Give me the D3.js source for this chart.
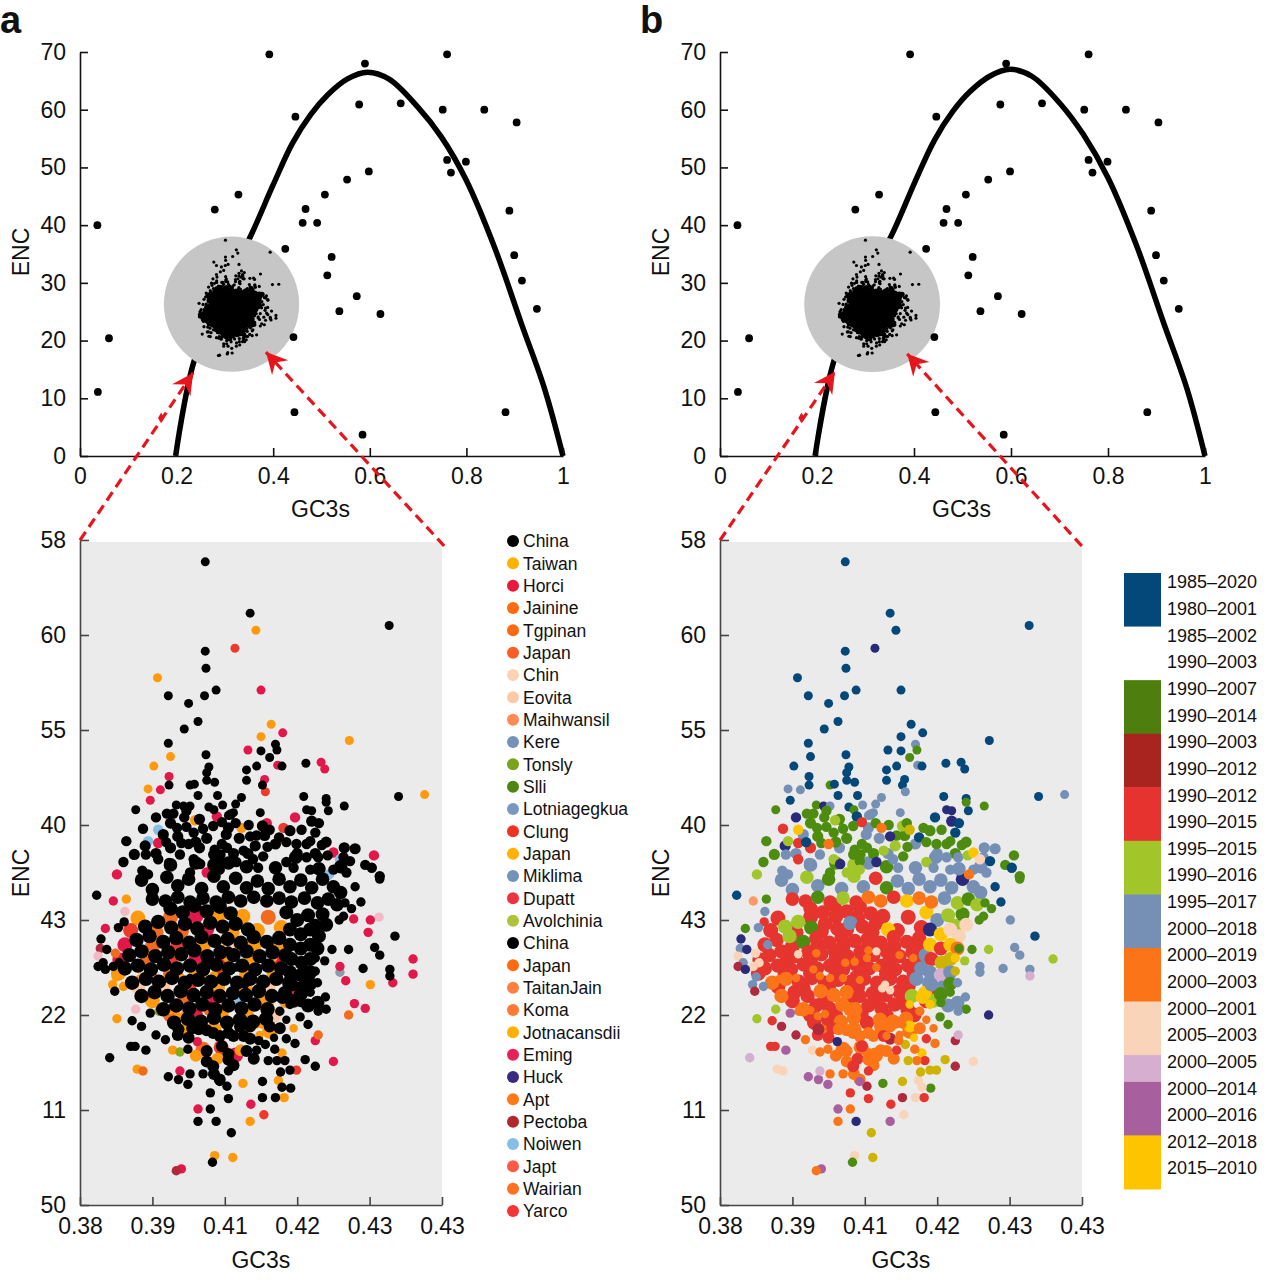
<!DOCTYPE html>
<html><head><meta charset="utf-8">
<script src="https://cdnjs.cloudflare.com/ajax/libs/d3/7.8.5/d3.min.js"></script>
<style>html,body{margin:0;padding:0;background:#fff}svg{display:block}text{font-family:"Liberation Sans",Arial,sans-serif;fill:#111}</style>
</head><body><svg id="c" width="1280" height="1280"></svg>
<script>
// ---------- overview panels ----------
const topGc=[.392,.76,.59,.578,.664,.446,.751,.837,.904,.76,.799,.768,.598,.553,.507,.328,.279,.467,.889,.461,.491,.036,.425,.521,.899,.512,.915,.573,.537,.622,.946,.442,.06,.037,.444,.881,.585];
const topEnc=[69.6,69.6,68,60.9,61.1,58.8,60,60,57.8,51.3,51,49.1,49.3,47.9,45.3,45.3,42.7,42.8,42.5,40.4,40.4,40,35.9,34.5,34.8,31.3,30.4,27.7,25.1,24.6,25.5,20.6,20.4,11.1,7.6,7.6,3.7];
const curveGcA=[.198,.236,.30,.356,.40,.44,.478,.513,.553,.595,.64,.70,.748,.799,.859,.914,.962,1];
const curveEncA=[0,16.4,29,38.6,47,54.2,59.2,62.6,65.3,66.5,65.3,60.4,55.3,47.9,36,22.9,11.6,0];
const curveGcB=[.196,.236,.30,.358,.402,.442,.48,.515,.556,.598,.643,.702,.75,.80,.86,.915,.963,1];
const curveEncB=[0,16.8,29.4,39,47.5,54.7,59.7,63.1,65.8,67,65.8,61,55.6,48.2,36.2,23,11.6,0];
const topXTicks=[0,.2,.4,.6,.8,1], topXLabels=["0","0.2","0.4","0.6","0.8","1"];
const topYTicks=[0,10,20,30,40,50,60,70];
// ---------- zoom panels: axis tick labels as printed ----------
const zoomXTicks=[.38,.39,.40,.41,.42,.43], zoomXLabels=["0.38","0.39","0.41","0.42","0.43","0.43"];
const zoomYTicks=[0,10,20,30,40,50,60,70], zoomYLabels=["50","11","22","43","40","55","60","58"];
// ---------- legends ----------
const countryNames=["China","Taiwan","Horci","Jainine","Tgpinan","Japan","Chin","Eovita","Maihwansil","Kere","Tonsly","Slli","Lotniagegkua","Clung","Japan","Miklima","Dupatt","Avolchinia","China","Japan","TaitanJain","Koma","Jotnacansdii","Eming","Huck","Apt","Pectoba","Noiwen","Japt","Wairian","Yarco"];
const countryLegendColors=["#000","#ffb300","#e8183f","#ff6a10","#ff6a10","#ff5b26","#fcd2b5","#fccaa6","#ff8a55","#7592b8","#7aa31a","#4f8612","#7a98bd","#ee3224","#ffb300","#7592b8","#ee3240","#b0c23a","#000","#ff6a10","#ff8040","#ff7a35","#ffb000","#e8205a","#3a2a80","#ff7a15","#b0282e","#88bde6","#ff5a48","#ff7020","#f53535"];
const yearLabels=["1985–2020","1980–2001","1985–2002","1990–2003","1990–2007","1990–2014","1990–2003","1990–2012","1990–2012","1990–2015","1995–2015","1990–2016","1995–2017","2000–2018","2000–2019","2000–2003","2000–2001","2005–2003","2000–2005","2000–2014","2000–2016","2012–2018","2015–2010"];
const yearBlockColors=["#04487a","#ffffff","#4e7f0e","#a9241f","#e7332f","#a2c52a","#7690b5","#fb7518","#fad4b8","#d6aed0","#a85f9e","#ffc400"];
const yearBlockSpans=[2,2,2,2,2,2,2,2,2,1,2,2];
// colour keys
const countryKeys=["K","O","R","E","L","S","G","P","D","H","W","T"];
const countryKeyColors=["#000000","#ff9a0d","#e2174a","#ee3a2a","#88bde6","#7b93b8","#8aa51a","#fcc8a4","#f26a1b","#f3b9c4","#b0283a","#8c9bab"];
const eraKeys=["N","I","F","B","T","A","C","H","M","Y","W","V","Z","Q"];
const eraKeyColors=["#04487a","#2a2a7a","#4e8c10","#a2c52a","#7690b5","#fb7518","#e5352e","#fad4b8","#a85f9e","#ffc400","#b02a3e","#d6aed0","#cdb400","#ff9a66"];
// ---------- codon points [GC3s, ENC, country key, era key]; the era key "" = not seen in b ----------
const underlay=[[.3880,30.2,"O","C"],[.3925,30.3,"D","C"],[.3960,30.4,"R","C"],[.3990,30.2,"O","C"],[.4025,30.4,"O","C"],[.4060,30.3,"D","C"],[.3870,28.9,"E","C"],[.3905,28.7,"D","C"],[.3940,28.8,"D","C"],[.3975,29.0,"R","C"],[.4010,28.7,"O","C"],[.4045,28.9,"O","C"],[.4078,29.2,"O","C"],[.3862,27.4,"R","C"],[.3900,27.2,"D","C"],[.3935,27.3,"E","C"],[.3970,27.2,"O","C"],[.4005,27.3,"P","C"],[.4040,27.2,"O","C"],[.4075,27.3,"O","C"],[.3855,25.8,"R","C"],[.3893,25.9,"D","C"],[.3925,25.8,"E","C"],[.3960,25.9,"R","C"],[.3995,25.7,"R","C"],[.4035,25.9,"O","C"],[.4072,25.8,"R","C"],[.3853,24.4,"O","C"],[.3890,24.3,"P","C"],[.3925,24.4,"D","C"],[.3960,24.2,"O","C"],[.3995,24.4,"E","C"],[.4030,24.3,"O","C"],[.4068,24.4,"O","C"],[.3880,23.0,"P","C"],[.3915,22.8,"P","C"],[.3950,23.0,"E","C"],[.3990,22.9,"O","C"],[.4025,22.9,"R","C"],[.4060,23.0,"P","C"],[.4095,22.8,"E","C"],[.3900,21.5,"O","C"],[.3945,21.6,"D","C"],[.3980,21.5,"R","C"],[.4015,21.6,"L","C"],[.4052,21.4,"O","C"],[.4085,21.5,"O","C"],[.3925,20.0,"D","C"],[.3960,19.9,"R","C"],[.3995,20.1,"O","C"],[.4030,19.9,"O","C"],[.4068,20.0,"P","C"],[.3945,18.4,"O","A"],[.3985,18.5,"O","A"],[.4025,18.4,"O","A"],[.4062,18.3,"O","A"],[.3970,16.4,"D","A"],[.3995,16.6,"E","A"],[.4015,15.8,"R","A"]];
const coreA=[[.3925,31.2,"K","C"],[.3942,30.8,"K","C"],[.3958,31.5,"K","C"],[.3975,30.9,"K","C"],[.3993,31.4,"K","C"],[.4008,30.7,"K","C"],[.3890,29.3,"K","B"],[.3908,29.8,"K","B"],[.3926,29.2,"K","F"],[.3945,29.6,"K","C"],[.3962,29.1,"K","C"],[.3980,29.7,"K","T"],[.3997,29.3,"K","C"],[.4015,29.6,"K","C"],[.4032,29.0,"K","Y"],[.3878,27.9,"K","C"],[.3896,28.3,"K","B"],[.3915,27.7,"K","F"],[.3933,28.1,"K","C"],[.3951,27.6,"K","C"],[.3968,28.2,"K","C"],[.3986,27.8,"K","C"],[.4004,28.0,"K","C"],[.4022,27.6,"K","C"],[.4040,28.2,"K","C"],[.4058,27.7,"K","C"],[.4075,28.1,"K","C"],[.3868,26.3,"K","C"],[.3885,26.7,"K","C"],[.3904,26.2,"K","C"],[.3922,26.6,"K","C"],[.3940,26.4,"K","C"],[.3958,26.8,"K","C"],[.3976,26.2,"K","C"],[.3994,26.6,"K","C"],[.4012,26.3,"K","C"],[.4030,26.7,"K","C"],[.4048,26.2,"K","C"],[.4066,26.6,"K","C"],[.4084,26.3,"K","T"]];
const coreB=[[.3862,24.9,"K","C"],[.3880,25.2,"K","C"],[.3898,24.8,"K","C"],[.3916,25.3,"K","C"],[.3934,24.9,"K","C"],[.3952,25.2,"K","C"],[.3970,24.8,"K","C"],[.3988,25.3,"K","C"],[.4006,24.9,"K","C"],[.4024,25.2,"K","C"],[.4042,24.8,"K","C"],[.4060,25.2,"K","C"],[.4078,24.9,"K","T"],[.3872,23.4,"K","A"],[.3891,23.8,"K","A"],[.3909,23.5,"K","C"],[.3927,23.9,"K","C"],[.3945,23.4,"K","C"],[.3963,23.7,"K","C"],[.3981,23.5,"K","C"],[.3999,23.8,"K","C"],[.4017,23.4,"K","C"],[.4035,23.8,"K","C"],[.4053,23.5,"K","C"],[.4071,23.8,"K","T"],[.4089,23.4,"K","T"],[.3885,22.0,"K","A"],[.3903,22.4,"K","C"],[.3921,22.0,"K","C"],[.3939,22.5,"K","A"],[.3957,22.1,"K","A"],[.3975,22.4,"K","A"],[.3993,22.0,"K","C"],[.4011,22.3,"K","C"],[.4029,22.1,"K","C"],[.4047,22.5,"K","C"],[.4065,22.0,"K","B"],[.4083,22.3,"K","Y"],[.3915,20.6,"K","A"],[.3933,21.0,"K","C"],[.3951,20.7,"K","C"],[.3969,21.1,"K","A"],[.3987,20.6,"K","A"],[.4005,21.0,"K","C"],[.4023,20.7,"K","C"],[.4041,21.1,"K","C"],[.4059,20.6,"K","C"],[.3930,19.2,"K","C"],[.3949,19.6,"K","C"],[.3967,19.3,"K","A"],[.3985,19.7,"K","A"],[.4003,19.2,"K","C"],[.4021,19.5,"K","A"],[.4039,19.3,"K","A"],[.4057,19.6,"K","A"]];
const coreRight=[[.4085,30.8,"K","Y"],[.4100,30.0,"K","T"],[.4115,30.5,"K","B"],[.4125,29.4,"K","B"],[.4135,30.6,"K","F"],[.4090,29.0,"K","I"],[.4105,28.5,"K","Y"],[.4118,29.0,"K","H"],[.4130,28.3,"K","H"],[.4140,29.5,"K","H"],[.4090,27.4,"K","Y"],[.4105,27.0,"K","C"],[.4118,27.4,"K","Y"],[.4128,27.0,"K","A"],[.4092,25.9,"K","C"],[.4106,25.5,"K","Z"],[.4118,25.9,"K","Z"],[.4090,24.5,"K","T"],[.4105,24.2,"K","V"],[.4118,24.5,"K","T"],[.4092,23.2,"K","T"],[.4107,22.9,"K","T"],[.4118,23.3,"K","F"],[.4080,21.9,"K","Y"],[.4095,21.5,"K","B"],[.4105,22.2,"K","F"],[.4115,21.0,"K","T"],[.4128,21.3,"K","T"]];
const coreUpper=[[.3885,34.2,"K","T"],[.3900,33.2,"K","T"],[.3920,34.5,"K","B"],[.3935,33.6,"K","T"],[.3950,34.3,"K","F"],[.3968,33.3,"K","T"],[.3985,34.6,"K","B"],[.3998,33.5,"K","T"],[.4015,34.4,"K","C"],[.4030,33.4,"K","F"],[.4045,34.1,"K","T"],[.4060,33.3,"K","T"],[.4075,34.3,"K","T"],[.4090,33.5,"K","T"],[.4105,34.2,"K","T"],[.4120,33.4,"K","T"],[.4135,34.3,"K","I"],[.4150,33.5,"K","T"],[.4160,32.9,"K","T"],[.3900,32.2,"K","C"],[.3918,32.0,"K","C"],[.3935,32.4,"K","F"],[.3952,31.9,"K","C"],[.3970,32.3,"K","B"],[.3988,31.9,"K","C"],[.4005,32.4,"K","A"],[.4022,32.0,"K","A"],[.4040,32.4,"K","C"],[.4058,32.0,"K","Y"],[.4075,32.3,"K","A"],[.4092,31.9,"K","A"],[.4110,32.3,"K","T"],[.4128,31.8,"K","B"],[.4143,32.2,"K","F"],[.4155,31.6,"K","B"],[.3925,35.8,"K","T"],[.3960,36.0,"K","F"],[.3985,35.8,"K","B"],[.4005,36.0,"K","T"],[.4030,35.6,"K","F"],[.4070,35.5,"K","T"],[.4098,36.6,"K","T"],[.4130,35.4,"K","T"],[.4160,35.6,"K","T"]];
const fillUpper=[[.3925,40.2,"K","F"],[.3915,39.0,"K","T"],[.3935,38.8,"K","F"],[.3965,40.6,"K","F"],[.3975,38.6,"K","F"],[.3965,37.6,"K","T"],[.3925,37.6,"K","C"],[.3905,37.0,"K","T"],[.3890,37.8,"K","I"],[.3875,36.9,"K","F"],[.3960,38.2,"K","F"],[.4005,39.7,"K","T"],[.4020,38.6,"K","T"],[.4055,38.9,"K","F"],[.4052,39.9,"K","B"],[.4070,38.0,"K","T"],[.4090,39.4,"K","F"],[.4100,37.0,"K","T"],[.4125,37.0,"K","F"],[.4140,38.2,"K","F"],[.4032,37.0,"K","T"],[.4042,37.8,"K","B"],[.4012,37.0,"K","F"],[.4120,40.4,"K","I"],[.4002,39.0,"K","T"],[.4165,37.6,"K","T"],[.4180,37.5,"K","T"]];
const lowerCore=[[.3993,17.8,"K","A"],[.4005,18.1,"K","A"],[.4021,18.8,"K","A"],[.4044,19.2,"O","A"],[.4062,18.8,"K","Y"],[.4076,18.6,"K","A"],[.3955,18.6,"K","C"],[.3975,18.4,"K","A"],[.3935,17.9,"K","C"],[.3960,15.7,"O","A"],[.3975,15.1,"K","A"],[.3990,15.4,"O","C"],[.4005,15.9,"K","A"],[.4022,16.3,"O","A"],[.4012,14.7,"K","A"],[.3985,13.8,"K","A"],[.4040,15.4,"K","A"],[.4035,17.5,"K","W"],[.3936,18.5,"K","W"],[.3964,18.5,"K","A"],[.3984,18.1,"K","A"],[.4012,17.8,"K","A"],[.4026,17.8,"K","C"],[.4035,18.8,"K","A"],[.3996,16.7,"K","C"],[.3975,16.2,"K","A"],[.3984,14.6,"K","C"],[.3993,13.2,"K","A"],[.4005,15.3,"K","A"],[.3950,17.6,"K","C"],[.4030,16.2,"K","A"]];
const overlay=[[.4005,26.8,"K","A"],[.4016,26.7,"O","H"],[.4003,26.0,"O","A"],[.3973,25.5,"K","A"],[.3986,25.6,"O","A"],[.3970,23.9,"O","A"],[.3952,23.9,"K","A"],[.3938,24.1,"O","A"],[.3993,23.7,"K","A"],[.4035,22.6,"O","H"],[.4028,23.2,"K","H"],[.3929,24.8,"D","A"],[.4048,26.3,"O","A"],[.4067,26.0,"O","A"],[.4016,25.0,"K","A"],[.3933,26.5,"O","A"],[.3908,26.4,"P","H"],[.3985,24.2,"O","C"],[.3882,23.8,"O","A"],[.3905,23.9,"O","A"],[.3960,22.0,"D","A"],[.3980,20.9,"K","A"],[.3977,20.4,"D","A"],[.3945,20.1,"O","A"],[.3935,19.9,"O","A"],[.3925,20.5,"O","A"],[.4024,22.8,"O","H"],[.4062,21.1,"O","Y"],[.4052,19.0,"O","A"],[.4095,18.6,"O","A"],[.4085,19.5,"K","A"],[.4068,17.6,"K","Y"],[.4048,17.9,"O","A"],[.4030,17.8,"O","A"]];
const periphery1=[[.3973,67.7,"K","N"],[.4035,62.3,"K","N"],[.4043,60.5,"O","N"],[.4227,61.0,"K","N"],[.4014,58.6,"E","I"],[.3973,58.3,"K","N"],[.3974,56.5,"K","N"],[.3907,55.5,"O","N"],[.4050,54.2,"R","N"],[.3988,54.2,"K","N"],[.3972,53.6,"K","N"],[.3922,53.6,"K","N"],[.395,52.8,"K","N"],[.3963,50.9,"K","N"],[.3944,50.1,"K","N"],[.4064,50.6,"O","N"],[.4080,49.7,"R","N"],[.4050,49.3,"O","N"],[.4172,48.9,"O","N"],[.3922,48.6,"K","N"],[.4070,48.5,"K","T"],[.4072,47.9,"K","F"],[.4032,47.9,"R","N"],[.4050,47.8,"K","N"],[.3974,47.4,"K","N"],[.3925,47.2,"O","N"],[.4062,47.1,"K","F"],[.4112,46.5,"K","N"],[.4133,46.6,"R","N"],[.4138,45.9,"R","N"],[.3902,46.2,"O","N"],[.4044,46.2,"K","N"],[.4073,46.3,"R","T"],[.4079,46.2,"K","N"],[.3978,46.1,"K","N"],[.4030,45.8,"K","N"],[.3923,45.1,"R","N"],[.3975,45.5,"K","N"],[.3975,44.7,"K","N"],[.4030,44.7,"K","N"],[.4055,44.8,"R","N"],[.3986,44.5,"K","N"],[.3923,44.2,"K","N"],[.3952,44.2,"K","F"],[.3958,44.3,"K","N"],[.4052,44.2,"K","N"],[.3894,43.8,"O","T"],[.3911,43.7,"R","T"],[.3897,42.6,"R","N"],[.4056,43.5,"E","T"],[.3963,43.1,"K","N"],[.399,43.1,"K","N"],[.4109,43.0,"K","N"],[.414,42.8,"K","N"],[.424,43.0,"K","N"],[.4276,43.2,"O","T"],[.4023,42.9,"K","T"],[.414,42.4,"K","F"],[.4165,42.0,"K","F"],[.3877,41.6,"K","F"],[.3933,42.1,"K","F"],[.3943,42.0,"K","I"],[.3952,42.0,"K","T"],[.3978,41.9,"K","N"],[.3985,41.6,"K","F"],[.3997,42.1,"K","T"],[.4015,42.2,"K","T"],[.4012,41.3,"K","T"],[.4005,41.0,"K","T"],[.4049,41.3,"K","T"],[.4113,41.6,"K","I"],[.4120,41.5,"K","I"],[.4143,41.5,"K","O"]];
const periphery2=[[.3905,40.8,"K","I"],[.3920,41.2,"K","F"],[.3929,41.2,"K","F"],[.3947,41.5,"K","F"],[.3944,40.8,"K","F"],[.3959,40.5,"O","B"],[.3989,40.9,"R","N"],[.3984,39.9,"K","F"],[.3996,40.3,"K","C"],[.4008,41.1,"K","T"],[.4015,40.2,"K","F"],[.4033,40.0,"K","F"],[.4023,39.7,"O","A"],[.4058,40.2,"R","F"],[.4062,39.5,"K","Z"],[.4081,39.7,"E","F"],[.4075,38.7,"K","N"],[.4097,40.8,"R","N"],[.4106,39.5,"K","F"],[.4125,39.2,"K","N"],[.4130,40.2,"K","N"],[.3887,39.6,"K","C"],[.3864,38.3,"K","F"],[.3894,38.3,"L","B"],[.3908,39.5,"L","Y"],[.3934,39.7,"K","F"],[.3947,39.8,"K","F"],[.3957,39.2,"K","F"],[.3970,39.6,"K","F"],[.3908,38.1,"R","C"],[.3919,38.2,"K","N"],[.3940,38.1,"K","F"],[.3950,38.0,"K","A"],[.3996,38.0,"K","F"],[.3986,37.4,"K","F"],[.4003,37.6,"K","F"],[.3994,36.9,"K","F"],[.4026,37.3,"K","B"],[.4044,38.9,"K","F"],[.4035,38.8,"K","I"],[.4059,37.7,"K","F"],[.4085,38.2,"K","F"],[.4099,38.0,"K","F"],[.4113,38.0,"K","F"],[.4118,38.3,"K","F"],[.4134,37.9,"K","F"],[.3891,36.9,"K","T"],[.3860,36.1,"K","F"],[.3851,34.8,"R","B"],[.3908,36.4,"K","C"],[.3923,36.0,"K","T"],[.3938,36.9,"K","T"],[.3957,36.4,"K","B"],[.3966,35.9,"K","I"],[.3984,36.9,"K","F"],[.3993,36.2,"K","F"],[.3975,35.0,"R","B"],[.4016,36.1,"K","I"],[.4039,36.4,"K","T"],[.4053,36.7,"K","F"],[.4085,36.1,"K","B"],[.4095,35.5,"K","T"],[.4113,36.6,"K","T"],[.4129,36.6,"K","T"],[.4142,36.8,"K","B"],[.4164,36.6,"K","T"],[.4173,36.2,"K","N"],[.4194,35.8,"K","F"],[.4203,35.5,"K","N"],[.4206,36.8,"R","F"],[.4150,37.1,"R","Y"],[.4159,36.4,"L","H"],[.3886,35.2,"K","T"],[.3894,34.8,"K","T"],[.3952,35.0,"K","F"],[.3993,35.3,"K","B"],[.4046,35.5,"K","T"],[.4118,35.3,"K","T"],[.4150,35.3,"K","T"],[.4168,35.0,"K","T"],[.4214,34.6,"K","F"],[.4144,34.8,"L","A"]];
const periphery3=[[.3823,32.6,"K","N"],[.3846,32.0,"R","Q"],[.3864,32.2,"O","F"],[.3862,30.9,"H","T"],[.3861,29.8,"K","C"],[.3853,29.2,"K","T"],[.3835,29.1,"R","F"],[.3829,28.0,"K","I"],[.3866,27.4,"R","T"],[.3828,27.0,"W","T"],[.3837,26.9,"K","I"],[.3825,26.2,"H","H"],[.3849,26.5,"D","H"],[.3832,25.5,"K","T"],[.3854,25.5,"K","H"],[.3846,25.1,"K","H"],[.3825,25.1,"K","W"],[.3835,24.8,"K","I"],[.3850,24.0,"O","T"],[.3860,23.0,"O","T"],[.3845,23.2,"O","T"],[.3848,22.5,"K","W"],[.3851,19.6,"O","B"],[.3872,19.4,"K","C"],[.3885,18.8,"K","W"],[.3905,17.9,"K","W"],[.3918,17.4,"K","A"],[.3870,16.7,"K","C"],[.3876,16.7,"K","C"],[.3891,16.3,"K","M"],[.3841,15.5,"K","V"],[.3879,14.3,"O","H"],[.3887,14.1,"D","H"],[.3877,20.6,"H","B"],[.3909,20.4,"G","A"],[.3897,20.2,"K","M"],[.3928,16.3,"O","H"],[.3938,16.1,"G","A"],[.3949,16.4,"K","A"],[.3962,17.2,"R","I"],[.3922,13.5,"K","M"],[.3936,13.2,"K","M"],[.3938,14.1,"R","V"],[.3952,13.8,"K","A"],[.3949,12.7,"K","M"],[.3970,13.8,"K","A"],[.3980,11.8,"K","C"],[.3963,10.1,"R","M"],[.3980,10.1,"K","A"],[.3963,8.8,"K","A"],[.3988,8.8,"K","I"],[.4009,7.6,"K","Z"],[.3986,5.2,"O","H"],[.4011,5.0,"O","Z"],[.3983,4.5,"K","F"],[.3940,3.8,"R","M"],[.3933,3.6,"W","A"],[.4005,11.2,"K","C"],[.4003,12.5,"K","W"],[.4005,14.1,"K","C"],[.3993,13.0,"K","M"]];
const periphery4=[[.4025,12.8,"O","F"],[.4052,13.0,"K","Z"],[.4052,11.3,"K","W"],[.4036,10.6,"R","C"],[.4035,8.8,"O","M"],[.4054,9.5,"E","H"],[.4070,11.3,"K","H"],[.4082,11.3,"O","C"],[.4091,12.3,"K","F"],[.4079,12.4,"K","H"],[.4074,13.1,"O","H"],[.4077,14.0,"K","Z"],[.4090,14.2,"K","Z"],[.4099,14.2,"E","Z"],[.4125,14.6,"K","W"],[.4150,15.1,"R","H"],[.4125,17.3,"R","W"],[.4129,17.9,"D","V"],[.4111,15.3,"K","Z"],[.4097,17.0,"K","A"],[.4085,17.5,"K","C"],[.4079,16.0,"O","Y"],[.4083,15.2,"K","C"],[.4072,15.2,"K","A"],[.4060,15.2,"K","Z"],[.4069,16.4,"K","A"],[.4056,16.9,"K","Z"],[.4044,16.3,"K","C"],[.4047,17.3,"K","A"],[.4171,20.0,"D","I"],[.4194,20.7,"R",""],[.4179,21.2,"R",""],[.4167,23.6,"R",""],[.4159,24.5,"T","T"],[.4159,25.1,"R","T"],[.4201,23.2,"O",""],[.4191,24.9,"K","T"],[.4228,24.8,"K","T"],[.4228,24.1,"K","V"],[.4232,23.4,"R",""],[.4260,24.3,"R",""],[.4260,25.9,"R","B"],[.4214,26.3,"K","T"],[.4207,27.1,"K","T"],[.4235,28.3,"K","N"],[.4198,28.7,"R",""],[.4213,30.3,"H",""],[.4201,30.0,"R","T"],[.4178,30.1,"R",""],[.4158,30.0,"K","F"],[.4164,30.4,"K","F"],[.4180,33.5,"K","N"],[.4188,31.9,"K","N"],[.4166,31.8,"K","F"],[.4175,31.2,"K","F"],[.4214,34.3,"K","F"],[.4148,26.9,"K","F"],[.4171,26.9,"K","B"],[.4130,27.0,"K","F"],[.4138,25.7,"K","B"],[.4125,26.0,"K","Y"],[.4125,24.6,"K","Z"],[.4128,23.4,"K","T"],[.4139,21.9,"K","T"],[.4140,20.6,"K","F"],[.4129,20.4,"K","T"],[.4118,22.4,"K","F"],[.4115,19.0,"K","F"],[.4105,21.3,"K","F"],[.4104,19.8,"K","F"],[.4090,21.1,"K","Y"],[.4085,22.1,"K","Y"],[.4076,20.4,"K","A"]];

// ---------- drawing ----------
const svg=d3.select("#c");
const countryColor=d3.scaleOrdinal(countryKeys,countryKeyColors);
const eraColor=d3.scaleOrdinal(eraKeys,eraKeyColors);
const layers=[{pts:underlay,r:7.5},{pts:coreA,r:7.2},{pts:coreB,r:7.2},{pts:coreRight,r:7},{pts:coreUpper,r:6.8},{pts:fillUpper,r:5.6},{pts:lowerCore,r:6},{pts:overlay,r:4.2},{pts:periphery1,r:4.5},{pts:periphery2,r:5.2},{pts:periphery3,r:4.7},{pts:periphery4,r:4.7}];
const allPoints=layers.flatMap(l=>l.pts.map(p=>({gc:p[0],enc:p[1],c:p[2],e:p[3],r:l.r})));
const RED="#e8141c";

function style(axisG,col){axisG.selectAll("path,line").attr("stroke",col).attr("stroke-width",1.6);
  axisG.selectAll("text").attr("font-size",23).attr("fill","#111").style("font-family",'"Liberation Sans",Arial,sans-serif');}

function panel(ox,letter,curveGc,curveEnc,xSpan,mode,arrow){
  const g=svg.append("g");
  g.append("text").attr("x",ox).attr("y",33).attr("font-size",38).attr("font-weight","bold").text(letter);
  // ---- overview
  const X=d3.scaleLinear([0,1],[80+ox,80+ox+xSpan]);
  const Y=d3.scaleLinear([0,70],[456,52]);
  g.append("path").attr("fill","none").attr("stroke","#000").attr("stroke-width",5.5)
    .attr("d",d3.line().x(d=>X(d[0])).y(d=>Y(d[1])).curve(d3.curveCatmullRom)(d3.zip(curveGc,curveEnc)));
  const cx=X(.3137), cy=Y(26.3), rad=X(.3137+.14)-X(.3137);
  g.append("circle").attr("cx",cx).attr("cy",cy).attr("r",rad).attr("fill","#c6c6c6");
  const mx=d3.scaleLinear([.38,.43],[195+ox,283+ox]), my=d3.scaleLinear([0,70],[362,236]);
  g.append("g").selectAll("circle").data(allPoints).join("circle")
    .attr("cx",d=>mx(d.gc)).attr("cy",d=>my(d.enc)).attr("r",d=>d.r>=5.5?d.r*.5:1.6).attr("fill","#000");
  g.append("g").selectAll("circle").data(d3.zip(topGc,topEnc)).join("circle")
    .attr("cx",d=>X(d[0])).attr("cy",d=>Y(d[1])).attr("r",3.9).attr("fill","#000");
  const ax=g.append("g").attr("transform","translate(0,456)").call(d3.axisBottom(X).tickValues(topXTicks).tickFormat((d,i)=>topXLabels[i]).tickSizeInner(-8).tickSizeOuter(0).tickPadding(12));
  const ay=g.append("g").attr("transform",`translate(${80+ox},0)`).call(d3.axisLeft(Y).tickValues(topYTicks).tickSizeInner(-8).tickSizeOuter(0).tickPadding(14));
  style(ax,"#111");style(ay,"#111");
  g.append("text").attr("x",X(.5)-1).attr("y",517).attr("text-anchor","middle").attr("font-size",23).text("GC3s");
  g.append("text").attr("transform",`translate(${29+ox},252) rotate(-90)`).attr("text-anchor","middle").attr("font-size",23).text("ENC");
  // ---- zoom
  const x=d3.scaleLinear([.38,.43],[80+ox,442+ox]);
  const y=d3.scaleLinear([0,70],[1205,540]);
  g.append("rect").attr("x",x(.38)).attr("y",y(69.8)).attr("width",x(.43)-x(.38)).attr("height",y(0)-y(69.8)).attr("fill","#ebebeb");
  let pts=allPoints;
  if(mode==="a") pts=[...pts.filter(d=>d.c!=="K"),...pts.filter(d=>d.c==="K")];
  else pts=pts.filter(d=>d.e!=="");
  g.append("g").selectAll("circle").data(pts).join("circle")
    .attr("cx",d=>x(d.gc)).attr("cy",d=>y(d.enc)).attr("r",d=>d.r)
    .attr("fill",d=>mode==="a"?countryColor(d.c):eraColor(d.e));
  const bx=g.append("g").attr("transform","translate(0,1205)").call(d3.axisBottom(x).tickValues(zoomXTicks).tickFormat((d,i)=>zoomXLabels[i]).tickSizeInner(-8).tickSizeOuter(0).tickPadding(13));
  const by=g.append("g").attr("transform",`translate(${80+ox},0)`).call(d3.axisLeft(y).tickValues(zoomYTicks).tickFormat((d,i)=>zoomYLabels[i]).tickSizeInner(-9).tickSizeOuter(0).tickPadding(14));
  style(bx,"#444");style(by,"#444");
  g.append("text").attr("x",x(.4)+36).attr("y",1268).attr("text-anchor","middle").attr("font-size",23).text("GC3s");
  g.append("text").attr("transform",`translate(${29+ox},873) rotate(-90)`).attr("text-anchor","middle").attr("font-size",23).text("ENC");
  // ---- zoom-in arrows
  arrow.forEach(a=>{
    const x0=X(a[0]),y0=Y(a[1]),x1=X(a[2]),y1=Y(a[3]);
    g.append("line").attr("x1",x0).attr("y1",y0).attr("x2",x1).attr("y2",y1)
      .attr("stroke",RED).attr("stroke-width",3.2).attr("stroke-dasharray","10,6");
    const ang=Math.atan2(y1-y0,x1-x0)*180/Math.PI;
    g.append("path").attr("d","M0,0L-21,-11L-14,0L-21,11Z").attr("fill",RED).attr("transform",`translate(${x1},${y1}) rotate(${ang})`);
  });
  g.append("path").attr("d",d3.symbol(d3.symbolDiamond,34)()).attr("fill",RED).attr("transform",`translate(${X(.168)},${Y(6.6)})`);
}
const arrowEndsA=[[0,-14.6,.234,14.4],[.754,-15.6,.385,18]];
const arrowEndsB=[[0,-14.6,.237,14.6],[.746,-15.6,.386,17.7]];
panel(0,"a",curveGcA,curveEncA,483,"a",arrowEndsA);
panel(640,"b",curveGcB,curveEncB,485,"b",arrowEndsB);

// ---- country legend
const ly=d3.scalePoint(d3.range(countryNames.length),[541,1211]);
const lg=svg.append("g").selectAll("g").data(countryNames).join("g").attr("transform",(d,i)=>`translate(513,${ly(i)})`);
lg.append("circle").attr("r",6).attr("fill",(d,i)=>countryLegendColors[i]);
lg.append("text").attr("x",10).attr("dy","0.36em").attr("font-size",17.5).text(d=>d);

// ---- year legend
const yb=d3.scaleBand(d3.range(yearLabels.length),[573,1189]);
let k=0;
yearBlockColors.forEach((c,i)=>{
  svg.append("rect").attr("x",1124).attr("width",37).attr("y",yb(k)).attr("height",yb.bandwidth()*yearBlockSpans[i]+.5).attr("fill",c);
  k+=yearBlockSpans[i];
});
const yl=d3.scalePoint(d3.range(yearLabels.length),[582,1168]);
svg.append("g").selectAll("text").data(yearLabels).join("text")
  .attr("x",1167).attr("y",(d,i)=>yl(i)).attr("dy","0.36em").attr("font-size",18).text(d=>d);
</script></body></html>
